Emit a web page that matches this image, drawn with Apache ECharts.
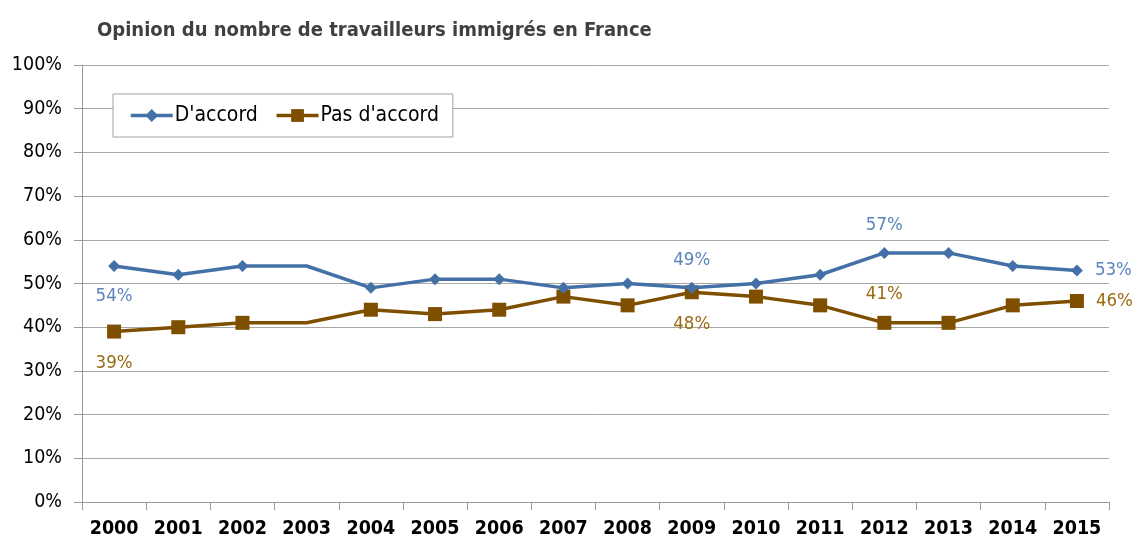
<!DOCTYPE html>
<html>
<head>
<meta charset="utf-8">
<script src="https://cdn.jsdelivr.net/npm/echarts@6/dist/echarts.min.js"></script>
<style>html,body{margin:0;padding:0;background:#fff}#c{width:1137px;height:543px}</style>
</head>
<body>
<div id="c"></div>
<script>
const years = ['2000','2001','2002','2003','2004','2005','2006','2007','2008','2009','2010','2011','2012','2013','2014','2015'];
const daccord = [54,52,54,54,49,51,51,49,50,49,50,52,57,57,54,53];
const pasDaccord = [39,40,41,41,44,43,44,47,45,48,47,45,41,41,45,46];
const yTicks = [0,10,20,30,40,50,60,70,80,90,100];
const noMarkerYears = ['2003'];

const FONT = "'DejaVu Sans Condensed','DejaVu Sans',sans-serif";
const blueLine = '#4470A8', blueLabel = '#5B84BF';
const brownLine = '#7F4F00', brownLabel = '#9A6A10';

// label positions per series (index -> position)
const dLabels = {0:'bottom', 9:'top', 12:'top', 15:'right'};
const pLabels = {0:'bottom', 9:'bottom', 12:'top', 15:'right'};

function build(values, labels, color) {
  return values.map((v, i) => {
    const item = { value: v };
    if (noMarkerYears.includes(years[i])) item.symbol = 'none';
    if (labels[i]) {
      const pos = labels[i];
      item.label = { show: true, position: pos, distance: pos === 'bottom' ? 15 : 12, formatter: '{c}%', color: color, fontSize: 18.5, fontFamily: FONT };
    }
    return item;
  });
}

const chart = echarts.init(document.getElementById('c'), null, {renderer: 'canvas'});
chart.setOption({
  animation: false,
  title: {
    text: 'Opinion du nombre de travailleurs immigrés en France',
    left: 92, top: 16,
    textStyle: { fontFamily: FONT, fontWeight: 'bold', fontSize: 20, color: '#404040' }
  },
  legend: {
    left: 113, top: 94, width: 337, height: 44,
    padding: [11, 14, 11, 16],
    backgroundColor: '#fff',
    borderColor: '#a0a0a0', borderWidth: 1,
    itemWidth: 42, itemHeight: 16, itemGap: 17,
    lineStyle: { width: 3.5 },
    textStyle: { fontFamily: FONT, fontSize: 21, color: '#000', padding: [0, 0, 0, -3] },
    data: ["D'accord", "Pas d'accord"]
  },
  grid: { left: 82, right: 28, top: 65, bottom: 41, containLabel: false },
  xAxis: {
    type: 'category', data: years, boundaryGap: true,
    axisLine: { lineStyle: { color: '#999', width: 1 } },
    axisTick: { show: true, interval: 0, length: 8, alignWithLabel: false, lineStyle: { color: '#999' } },
    axisLabel: { interval: 0, fontFamily: FONT, fontSize: 19.5, fontWeight: 'bold', color: '#000', margin: 17 }
  },
  yAxis: {
    type: 'value', min: 0, max: 100, interval: 10,
    axisLine: { show: true, lineStyle: { color: '#999' } },
    axisTick: { show: true, length: 8, lineStyle: { color: '#999' } },
    splitLine: { lineStyle: { color: '#a6a6a6', width: 1 } },
    axisLabel: { fontFamily: FONT, fontSize: 19.5, color: '#000', margin: 20,
      formatter: v => yTicks.includes(v) ? v + '%' : '' }
  },
  series: [
    {
      name: "D'accord", type: 'line', z: 3,
      data: build(daccord, dLabels, blueLabel),
      symbol: 'diamond', symbolSize: 12, showAllSymbol: true,
      lineStyle: { color: blueLine, width: 3.5 },
      itemStyle: { color: blueLine },
      emphasis: { disabled: true }
    },
    {
      name: "Pas d'accord", type: 'line', z: 2,
      data: build(pasDaccord, pLabels, brownLabel),
      symbol: 'rect', symbolSize: 14, showAllSymbol: true,
      lineStyle: { color: brownLine, width: 3.5 },
      itemStyle: { color: brownLine },
      emphasis: { disabled: true }
    }
  ]
});
</script>
</body>
</html>
